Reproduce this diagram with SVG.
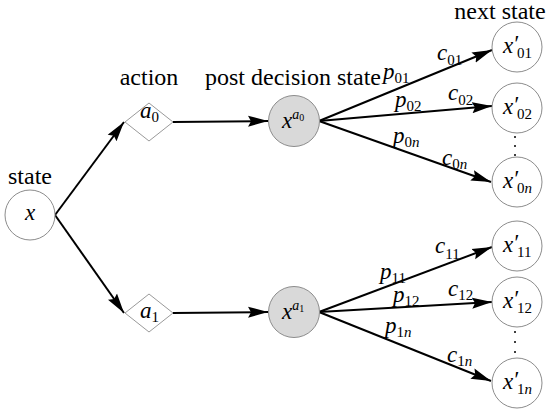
<svg xmlns="http://www.w3.org/2000/svg" width="550" height="410" viewBox="0 0 550 410">
<style>
.t{font-family:"Liberation Serif","DejaVu Serif",serif;font-size:24px;fill:#000}
.v{font-family:"Liberation Serif","DejaVu Serif",serif;font-size:23px;font-style:italic;fill:#000}
.s{font-style:normal;font-size:15px}
.si{font-style:italic;font-size:15px}
.sup{font-style:italic;font-size:14px}
.ss{font-style:normal;font-size:10px}
.node{fill:#fff;stroke:#8c8c8c;stroke-width:1}
.pds{fill:#d9d9d9;stroke:#8c8c8c;stroke-width:1}
.act{fill:#fff;stroke:#9a9a9a;stroke-width:1}
.edge{stroke:#000;stroke-width:2;fill:none;marker-end:url(#ah)}
</style>
<defs>
<marker id="ah" markerUnits="userSpaceOnUse" markerWidth="22" markerHeight="14" refX="20" refY="6" orient="auto">
<path d="M0,0.5 L20,6 L0,11.5 L3,6 Z" fill="#000"/>
</marker>
</defs>
<rect width="550" height="410" fill="#fff"/>
<text class="t" x="30" y="184" text-anchor="middle">state</text>
<text class="t" x="149" y="85" text-anchor="middle">action</text>
<text class="t" x="293" y="85" text-anchor="middle">post decision state</text>
<text class="t" x="500" y="19" text-anchor="middle">next state</text>
<g id="connectors">
<path class="edge" d="M55,215 L124,122"/>
<path class="edge" d="M55,215 L124,313"/>
<path class="edge" d="M173,122 L268,121"/>
<path class="edge" d="M173,313 L268,312"/>
<path class="edge" d="M319,121 L492,50"/>
<path class="edge" d="M319,121 L492,106"/>
<path class="edge" d="M319,121 L491,182"/>
<path class="edge" d="M319,312 L492,247"/>
<path class="edge" d="M319,312 L492,302"/>
<path class="edge" d="M319,312 L491,381"/>
<text class="v" x="383" y="79">p<tspan class="s" y="83">01</tspan></text>
<text class="v" x="437" y="60">c<tspan class="s" y="65">01</tspan></text>
<text class="v" x="395" y="107">p<tspan class="s" y="111">02</tspan></text>
<text class="v" x="448" y="100">c<tspan class="s" y="105">02</tspan></text>
<text class="v" x="393" y="143">p<tspan class="s" y="147">0</tspan><tspan class="si">n</tspan></text>
<text class="v" x="442" y="165">c<tspan class="s" y="169">0</tspan><tspan class="si">n</tspan></text>
<text class="v" x="380" y="279">p<tspan class="s" y="283">11</tspan></text>
<text class="v" x="435" y="253">c<tspan class="s" y="259">11</tspan></text>
<text class="v" x="393" y="302">p<tspan class="s" y="306">12</tspan></text>
<text class="v" x="448" y="296">c<tspan class="s" y="300">12</tspan></text>
<text class="v" x="385" y="333">p<tspan class="s" y="337">1</tspan><tspan class="si">n</tspan></text>
<text class="v" x="447" y="362">c<tspan class="s" y="366">1</tspan><tspan class="si">n</tspan></text>
</g>
<g id="state">
<circle class="node" cx="30" cy="215" r="25"/>
<text class="v" x="30" y="220" text-anchor="middle">x</text>
</g>
<g id="a0">
<polygon class="act" points="125,122 149,103 173,122 149,141"/>
<text class="v" x="140" y="118">a<tspan class="s" y="122">0</tspan></text>
</g>
<g id="a1">
<polygon class="act" points="125,313 149,294 173,313 149,332"/>
<text class="v" x="140" y="318">a<tspan class="s" y="322">1</tspan></text>
</g>
<g id="xa0">
<circle class="pds" cx="294" cy="121" r="25.5"/>
<text class="v" x="282" y="128">x<tspan class="sup" y="119">a</tspan><tspan class="ss" y="121">0</tspan></text>
</g>
<g id="xa1">
<circle class="pds" cx="294" cy="312" r="25.5"/>
<text class="v" x="282" y="319">x<tspan class="sup" y="310">a</tspan><tspan class="ss" y="312">1</tspan></text>
</g>
<g id="x01">
<circle class="node" cx="517" cy="47" r="25"/>
<text class="v" y="53"><tspan x="503">x</tspan><tspan x="513" y="51">′</tspan><tspan class="s" x="517" y="58">01</tspan></text>
</g>
<g id="x02">
<circle class="node" cx="517" cy="108" r="25"/>
<text class="v" y="114"><tspan x="503">x</tspan><tspan x="513" y="112">′</tspan><tspan class="s" x="517" y="119">02</tspan></text>
</g>
<g id="dots0">
<circle cx="515" cy="137" r="1" fill="#000"/>
<circle cx="515" cy="146" r="1" fill="#000"/>
<circle cx="515" cy="155" r="1" fill="#000"/>
</g>
<g id="x0n">
<circle class="node" cx="517" cy="182" r="25"/>
<text class="v" y="188"><tspan x="503">x</tspan><tspan x="513" y="186">′</tspan><tspan class="s" x="517" y="193">0</tspan><tspan class="si">n</tspan></text>
</g>
<g id="x11">
<circle class="node" cx="517" cy="246" r="25"/>
<text class="v" y="252"><tspan x="503">x</tspan><tspan x="513" y="250">′</tspan><tspan class="s" x="517" y="257">11</tspan></text>
</g>
<g id="x12">
<circle class="node" cx="517" cy="302" r="25"/>
<text class="v" y="308"><tspan x="503">x</tspan><tspan x="513" y="306">′</tspan><tspan class="s" x="517" y="313">12</tspan></text>
</g>
<g id="dots1">
<circle cx="515" cy="332" r="1" fill="#000"/>
<circle cx="515" cy="342" r="1" fill="#000"/>
<circle cx="515" cy="352" r="1" fill="#000"/>
</g>
<g id="x1n">
<circle class="node" cx="517" cy="383" r="25"/>
<text class="v" y="389"><tspan x="503">x</tspan><tspan x="513" y="387">′</tspan><tspan class="s" x="517" y="394">1</tspan><tspan class="si">n</tspan></text>
</g>
</svg>
